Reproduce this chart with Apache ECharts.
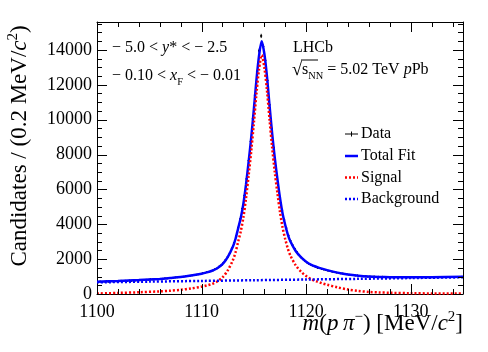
<!DOCTYPE html>
<html><head><meta charset="utf-8">
<script src="https://cdn.jsdelivr.net/npm/echarts/dist/echarts.min.js"></script>
<style>html,body{margin:0;padding:0;background:#fff}#c{width:488px;height:352px}</style>
</head><body><div id="c"></div>
<script>
// ---- histogram binning ----
const binLow = 1100, binWidth = 0.2;
// ---- data: candidates per 0.2 MeV bin (175 bins, 1100 - 1135) ----
const dataCounts = [
  690, 720, 700, 715, 735, 705, 730, 720, 745, 725,
  740, 760, 735, 770, 755, 780, 760, 790, 775, 800,
  790, 815, 800, 830, 820, 845, 835, 860, 850, 870,
  870, 885, 900, 890, 915, 925, 930, 950, 960, 965,
  985, 1000, 1020, 1030, 1050, 1065, 1090, 1110, 1130, 1150,
  1190, 1205, 1250, 1270, 1320, 1350, 1430, 1475, 1580, 1650,
  1800, 1960, 2130, 2340, 2620, 2930, 3310, 3800, 4300, 4900,
  5650, 6600, 7650, 8750, 10050, 11400, 12750, 13950, 14800, 14200,
  13400, 12250, 10850, 9500, 8400, 7300, 6400, 5550, 4800, 4250,
  3780, 3360, 3050, 2800, 2600, 2420, 2250, 2100, 1990, 1880,
  1800, 1720, 1660, 1610, 1560, 1500, 1480, 1430, 1400, 1370,
  1340, 1320, 1280, 1270, 1230, 1215, 1180, 1175, 1140, 1130,
  1110, 1090, 1085, 1060, 1065, 1030, 1040, 1010, 1020, 995,
  1005, 990, 1005, 980, 990, 975, 995, 970, 985, 975,
  980, 960, 975, 965, 985, 955, 970, 980, 960, 975,
  955, 980, 965, 950, 975, 965, 960, 980, 955, 970,
  975, 960, 985, 965, 970, 955, 980, 975, 965, 985,
  970, 985, 975, 980, 990
];
// ---- fit curves ----
const curveMass = [1100, 1102, 1104, 1106, 1107, 1108, 1109, 1110, 1110.5, 1111, 1111.5, 1112, 1112.5, 1113,
  1113.25, 1113.5, 1113.75, 1114, 1114.25, 1114.5, 1114.75, 1115, 1115.25, 1115.5, 1115.75, 1116,
  1116.25, 1116.5, 1116.75, 1117, 1117.25, 1117.5, 1117.75, 1118, 1118.25, 1118.5, 1119, 1119.5, 1120,
  1120.5, 1121, 1121.5, 1122, 1123, 1124, 1125, 1126, 1127, 1128, 1130, 1132, 1135];
const totalFit = [700, 745, 800, 865, 915, 970, 1060, 1165, 1240, 1335, 1480, 1710, 2115, 2720,
  3170, 3775, 4375, 5180, 6280, 7580, 8985, 10585, 12290, 13690, 14490, 13795,
  12495, 10800, 9200, 7800, 6600, 5505, 4605, 3960, 3410, 3010, 2470, 2115, 1855,
  1670, 1555, 1455, 1370, 1227, 1115, 1045, 1000, 978, 967, 960, 965, 985];
const signalFit = [30, 60, 100, 150, 190, 240, 320, 420, 490, 580, 720, 950, 1350, 1950,
  2400, 3000, 3600, 4400, 5500, 6800, 8200, 9800, 11500, 12900, 13700, 13000,
  11700, 10000, 8400, 7000, 5800, 4700, 3800, 3150, 2600, 2200, 1650, 1290, 1030,
  840, 720, 620, 530, 380, 260, 175, 120, 90, 70, 45, 32, 25];
const bgMass = [1100, 1105, 1110, 1115, 1120, 1125, 1130, 1135];
const bgFit = [670, 710, 750, 790, 830, 870, 915, 960];
// ---- axes and ticks ----
const xMin = 1100, xMax = 1135, xMajor = 10;
const yMin = 0, yMax = 15600, yMajor = 2000;
const xMajorTicks = [1100, 1110, 1120, 1130];
const xMinorTicks = [1102, 1104, 1106, 1108, 1112, 1114, 1116, 1118, 1122, 1124, 1126, 1128, 1132, 1134];
const yMajorTicks = [0, 2000, 4000, 6000, 8000, 10000, 12000, 14000];
const yMinorTicks = [500, 1000, 1500, 2500, 3000, 3500, 4500, 5000, 5500, 6500, 7000, 7500, 8500, 9000, 9500,
  10500, 11000, 11500, 12500, 13000, 13500, 14500, 15000, 15500];
const legendNames = ['Data', 'Total Fit', 'Signal', 'Background'];

const F = "'Liberation Serif','Times New Roman',serif";
function richFor(sz) {
  return {
    n: {fontSize: sz, fontFamily: F, color: '#000', lineHeight: sz * 1.25},
    i: {fontSize: sz, fontFamily: F, fontStyle: 'italic', color: '#000', lineHeight: sz * 1.25},
    sup: {fontSize: sz * 0.65, fontFamily: F, color: '#000', lineHeight: sz * 0.65, verticalAlign: 'top'},
    sub: {fontSize: sz * 0.65, fontFamily: F, color: '#000', lineHeight: sz * 0.65, padding: [sz * 0.7, 0, 0, 0], verticalAlign: 'top'},
    r: {fontSize: sz * 1.15, fontFamily: F, color: '#000', lineHeight: sz * 1.25}
  };
}
function ax(dim, pos, interval, labels) {
  return {
    type: 'value', position: pos,
    min: dim === 'x' ? xMin : yMin, max: dim === 'x' ? xMax : yMax, interval: interval,
    axisLine: {show: true, onZero: false, lineStyle: {color: '#000', width: 1}},
    axisTick: {show: false},
    axisLabel: {show: labels, margin: dim === 'x' ? 9 : 5, fontFamily: F, fontSize: 18, color: '#000',
      showMaxLabel: false, formatter: v => String(Math.round(v))},
    splitLine: {show: false}, minorTick: {show: false}
  };
}
const dataPts = dataCounts.map((n, i) => [binLow + binWidth * (i + 0.5), n, Math.sqrt(n)]);
const pairs = (xs, ys) => xs.map((x, i) => [x, ys[i]]);

const chart = echarts.init(document.getElementById('c'), null, {renderer: 'canvas', width: 488, height: 352});
const rich16 = richFor(16), rich23 = richFor(23);
function legendRow(k, y) {
  const items = [];
  if (k === 0) {
    items.push({type: 'line', shape: {x1: 345, y1: y, x2: 358, y2: y}, style: {stroke: '#000', lineWidth: 1}});
    items.push({type: 'line', shape: {x1: 351.5, y1: y - 2.5, x2: 351.5, y2: y + 2.5}, style: {stroke: '#000', lineWidth: 1}});
  } else if (k === 1) {
    items.push({type: 'line', shape: {x1: 345, y1: y, x2: 358, y2: y}, style: {stroke: '#0000ff', lineWidth: 2.5}});
  } else {
    items.push({type: 'line', shape: {x1: 345, y1: y, x2: 358, y2: y},
      style: {stroke: k === 2 ? '#ff0000' : '#0000ff', lineWidth: 2.5, lineDash: [2, 2]}});
  }
  items.push({type: 'text', x: 361, y: y, style: {text: '{n|' + legendNames[k] + '}', rich: rich16,
    align: 'left', verticalAlign: 'middle', textAlign: 'left', textVerticalAlign: 'middle'}});
  return items;
}
const legendYs = [134, 156, 177.5, 199];
let graphics = [];
legendNames.forEach((n, k) => { graphics = graphics.concat(legendRow(k, legendYs[k])); });
graphics.push(
  {type: 'text', x: 20, y: 146, rotation: Math.PI / 2,
    style: {text: '{n|Candidates / (0.2 MeV/}{i|c}{sup|2}{n|)}', rich: rich23,
      align: 'center', verticalAlign: 'middle', textAlign: 'center', textVerticalAlign: 'middle'}},
  {type: 'text', x: 463, y: 324,
    style: {text: '{i|m}{n|(}{i|p}{n|\u2009}{i|π}{sup|−}{n|) [MeV/}{i|c}{sup|2}{n|]}', rich: rich23,
      align: 'right', verticalAlign: 'middle', textAlign: 'right', textVerticalAlign: 'middle'}},
  {type: 'text', x: 112, y: 48,
    style: {text: '{n|− 5.0 < }{i|y}{n|* < − 2.5}', rich: rich16, align: 'left', verticalAlign: 'middle', textAlign: 'left', textVerticalAlign: 'middle'}},
  {type: 'text', x: 112, y: 76,
    style: {text: '{n|− 0.10 < }{i|x}{sub|F}{n| < − 0.01}', rich: rich16, align: 'left', verticalAlign: 'middle', textAlign: 'left', textVerticalAlign: 'middle'}},
  {type: 'text', x: 293, y: 48,
    style: {text: '{n|LHCb}', rich: rich16, align: 'left', verticalAlign: 'middle', textAlign: 'left', textVerticalAlign: 'middle'}},
  {type: 'text', x: 292, y: 70,
    style: {text: '{r|√}{n|s}{sub|NN}{n| = 5.02 TeV }{i|p}{n|Pb}', rich: rich16, align: 'left', verticalAlign: 'middle', textAlign: 'left', textVerticalAlign: 'middle'}},
  {type: 'line', shape: {x1: 301, y1: 60, x2: 318, y2: 60}, style: {stroke: '#000', lineWidth: 1}}
);

chart.setOption({
  animation: false,
  backgroundColor: '#fff',
  grid: {left: 97, right: 25, top: 22, bottom: 58},
  xAxis: [ax('x', 'bottom', xMajor, true), ax('x', 'top', xMajor, false)],
  yAxis: [ax('y', 'left', yMajor, true), ax('y', 'right', yMajor, false)],
  graphic: graphics,
  series: [
    {name: 'Data', type: 'custom', xAxisIndex: 0, yAxisIndex: 0, z: 1, encode: {x: 0, y: 1},
      data: dataPts,
      renderItem: function (params, api) {
        const m = api.value(0), n = api.value(1), e = api.value(2);
        const a = api.coord([m - binWidth / 2, n]), b = api.coord([m + binWidth / 2, n]);
        const t = api.coord([m, n + e]), d = api.coord([m, n - e]);
        const c = api.coord([m, n]);
        return {type: 'group', children: [
          {type: 'line', shape: {x1: a[0], y1: a[1], x2: b[0], y2: b[1]}, style: {stroke: '#000', lineWidth: 1}},
          {type: 'line', shape: {x1: d[0], y1: d[1], x2: t[0], y2: t[1]}, style: {stroke: '#000', lineWidth: 1}},
          {type: 'circle', shape: {cx: c[0], cy: c[1], r: 0.9}, style: {fill: '#000'}}
        ]};
      }},
    {name: 'Total Fit', type: 'line', xAxisIndex: 0, yAxisIndex: 0, z: 3, showSymbol: false, symbol: 'none',
      smooth: 0.3, data: pairs(curveMass, totalFit), lineStyle: {color: '#0000ff', width: 2.5}},
    {name: 'Signal', type: 'line', xAxisIndex: 0, yAxisIndex: 0, z: 4, showSymbol: false, symbol: 'none',
      smooth: 0.3, data: pairs(curveMass, signalFit), lineStyle: {color: '#ff0000', width: 2.5, type: [2, 2]}},
    {name: 'Background', type: 'line', xAxisIndex: 0, yAxisIndex: 0, z: 4, showSymbol: false, symbol: 'none',
      smooth: 0.3, data: pairs(bgMass, bgFit), lineStyle: {color: '#0000ff', width: 2.5, type: [2, 2]}}
  ]
});

// ---- ticks on all four sides, placed through the axes' own scales ----
const lo = chart.convertToPixel({gridIndex: 0}, [xMin, yMin]);
const hi = chart.convertToPixel({gridIndex: 0}, [xMax, yMax]);
const tickEls = [];
function addTick(x1, y1, x2, y2) {
  tickEls.push({type: 'line', z: 50, silent: true, shape: {x1: x1, y1: y1, x2: x2, y2: y2},
    style: {stroke: '#000', lineWidth: 1}});
}
function xTicks(list, len) {
  list.forEach(v => {
    const x = Math.round(chart.convertToPixel({xAxisIndex: 0}, v)) + 0.5;
    addTick(x, lo[1], x, lo[1] - len);
    addTick(x, hi[1], x, hi[1] + len);
  });
}
function yTicks(list, len) {
  list.forEach(v => {
    const y = Math.round(chart.convertToPixel({yAxisIndex: 0}, v)) + 0.5;
    addTick(lo[0], y, lo[0] + len, y);
    addTick(hi[0], y, hi[0] - len, y);
  });
}
xTicks(xMajorTicks, 10); xTicks(xMinorTicks, 5);
yTicks(yMajorTicks, 10); yTicks(yMinorTicks, 5);
chart.setOption({graphic: graphics.concat(tickEls)});
</script>
</body></html>
